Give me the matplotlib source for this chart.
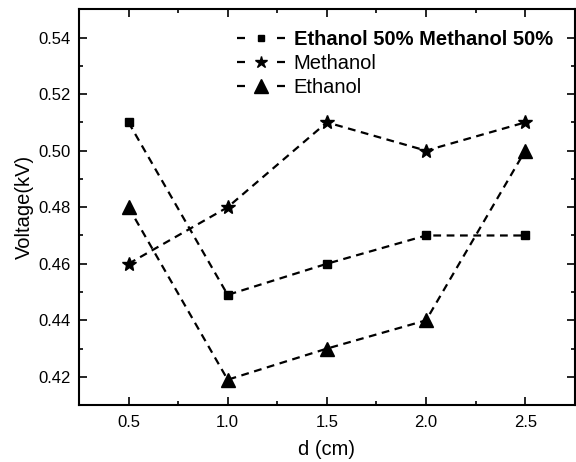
import matplotlib.pyplot as plt
from matplotlib.lines import Line2D
import numpy as np

plt.rcParams['font.family'] = ['Liberation Sans', 'DejaVu Sans']

d_cm = [0.5, 1.0, 1.5, 2.0, 2.5]
mix_v = [0.510, 0.449, 0.460, 0.470, 0.470]
methanol_v = [0.460, 0.480, 0.510, 0.500, 0.510]
ethanol_v = [0.480, 0.419, 0.430, 0.440, 0.500]

labels = ['Ethanol 50% Methanol 50%', 'Methanol', 'Ethanol']
markers = ['s', '*', '^']
sizes = [6, 10, 10]
legend_sizes = [5, 9, 10]

fig = plt.figure(figsize=(5.76, 4.62), dpi=100)
ax = fig.add_axes([0.137, 0.123, 0.861, 0.857])

dash = (0, (3.5, 2.5))
for y, m, ms, lab in zip([mix_v, methanol_v, ethanol_v], markers, sizes, labels):
    ax.plot(d_cm, y, ls=dash, color='black', lw=1.6, marker=m, ms=ms, label=lab)

ax.set_xlim(0.25, 2.75)
ax.set_ylim(0.41, 0.55)
ax.set_xticks([0.5, 1.0, 1.5, 2.0, 2.5])
ax.set_xticks(np.arange(0.25, 2.76, 0.25), minor=True)
yt = [0.42, 0.44, 0.46, 0.48, 0.50, 0.52, 0.54]
ax.set_yticks(yt)
ax.set_yticklabels([f'{v:.2f}' for v in yt])
ax.set_yticks(np.arange(0.41, 0.551, 0.01), minor=True)
ax.tick_params(which='both', direction='in', top=True, right=True, labelsize=12,
               width=1.2, colors='black')
ax.tick_params(which='major', length=6)
ax.tick_params(axis='y', which='major', pad=6)
ax.tick_params(axis='x', which='major', pad=7)
ax.tick_params(which='minor', length=3)
for s in ax.spines.values():
    s.set_linewidth(1.5)

ax.set_xlabel('d (cm)', fontsize=14.5, labelpad=7)
ax.set_ylabel('Voltage(kV)', fontsize=14.5, labelpad=3)

handles = [Line2D([], [], color='black', lw=1.6, ls=(0, (3.6, 14.4)), marker=m, ms=ms)
           for m, ms in zip(markers, legend_sizes)]
leg = ax.legend(handles, labels, loc='upper right', bbox_to_anchor=(0.980, 0.977),
                frameon=False, fontsize=14.5, handlelength=2.38, handletextpad=0.45,
                borderaxespad=0.2, labelspacing=0.25)
leg.get_texts()[0].set_fontweight('bold')

fig.savefig('out.png', dpi=100)
